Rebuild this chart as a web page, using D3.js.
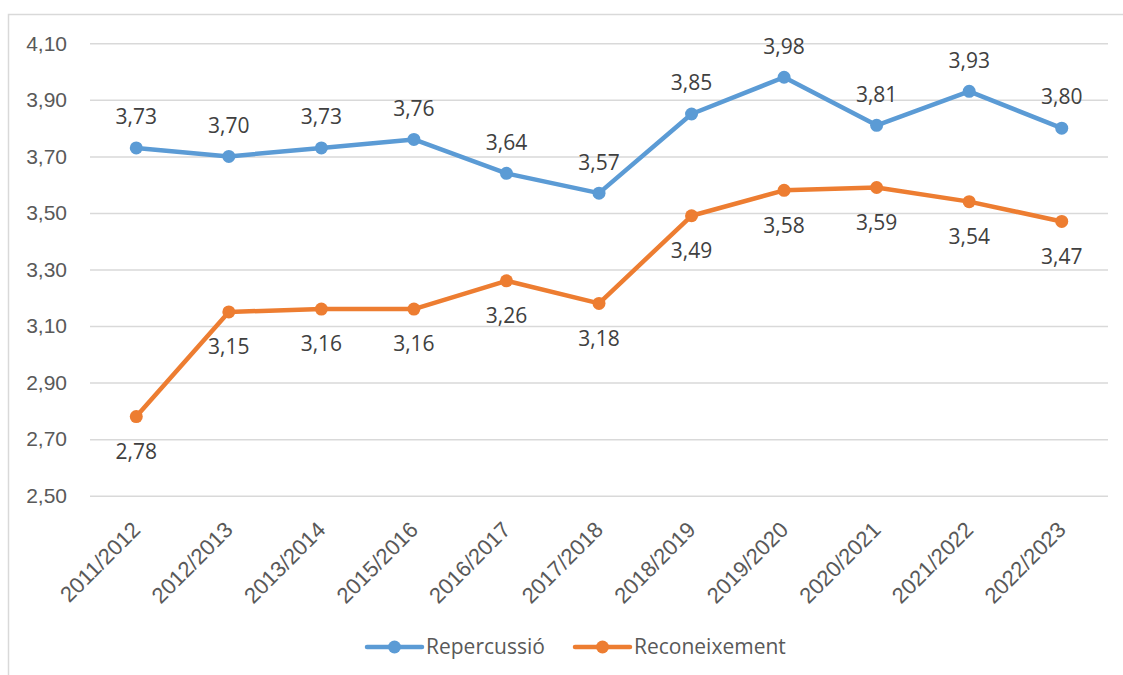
<!DOCTYPE html>
<html>
<head>
<meta charset="utf-8">
<script src="https://cdn.jsdelivr.net/npm/d3@7"></script>
<style>
  body { margin: 0; background: #fff; }
  svg { display: block; font-family: "Open Sans", "Liberation Sans", sans-serif; }
</style>
</head>
<body>
<div id="chart"></div>
<script>
// Data
const years = ['2011/2012', '2012/2013', '2013/2014', '2015/2016', '2016/2017', '2017/2018',
    '2018/2019', '2019/2020', '2020/2021', '2021/2022', '2022/2023'];
const repercussio = [3.73, 3.70, 3.73, 3.76, 3.64, 3.57, 3.85, 3.98, 3.81, 3.93, 3.80];
const reconeixement = [2.78, 3.15, 3.16, 3.16, 3.26, 3.18, 3.49, 3.58, 3.59, 3.54, 3.47];
const yTicks = [2.5, 2.7, 2.9, 3.1, 3.3, 3.5, 3.7, 3.9, 4.1];

const width = 1123, height = 675;
const plot = { left: 90, right: 1108, top: 43.3, bottom: 495.7 };

const series = [
    { name: 'Repercussió', values: repercussio, color: '#5b9bd5', labelDy: -31 },
    { name: 'Reconeixement', values: reconeixement, color: '#ed7d31', labelDy: 35 }
];

const fmt = v => d3.format('.2f')(v).replace('.', ',');

const svg = d3.select('#chart').append('svg')
    .attr('width', width)
    .attr('height', height);

// Outer frame (cut by the image edge on the right and bottom)
svg.append('rect')
    .attr('x', 8.5).attr('y', 14.5)
    .attr('width', 1130).attr('height', 680)
    .attr('fill', 'none')
    .attr('stroke', '#d9d9d9')
    .attr('stroke-width', 1.5);

const x = d3.scaleBand()
    .domain(years)
    .range([plot.left, plot.right]);

const y = d3.scaleLinear()
    .domain([2.5, 4.1])
    .range([plot.bottom, plot.top]);

const cx = d => x(d) + x.bandwidth() / 2;

// Gridlines + y labels
const yAxis = svg.append('g')
    .attr('transform', `translate(${plot.left},0)`)
    .call(d3.axisLeft(y).tickValues(yTicks).tickSize(-(plot.right - plot.left)).tickFormat(fmt));
yAxis.select('.domain').remove();
yAxis.selectAll('.tick line').attr('stroke', '#d9d9d9').attr('stroke-width', 1.5);
yAxis.selectAll('.tick text')
    .attr('x', -23)
    .attr('fill', '#595959')
    .style('font-size', '21px');

// X labels
const xAxis = svg.append('g')
    .attr('transform', `translate(0,${plot.bottom})`)
    .call(d3.axisBottom(x).tickSize(0));
xAxis.select('.domain').remove();
xAxis.selectAll('.tick text')
    .attr('fill', '#595959')
    .style('font-size', '22px')
    .attr('text-anchor', 'end')
    .attr('dy', '0.35em')
    .attr('y', 0)
    .attr('transform', 'translate(0,30) rotate(-45)');

// Lines, markers and value labels
const line = d3.line()
    .x((d, i) => cx(years[i]))
    .y(d => y(d));

series.forEach(s => {
    svg.append('path')
        .datum(s.values)
        .attr('fill', 'none')
        .attr('stroke', s.color)
        .attr('stroke-width', 4.5)
        .attr('stroke-linejoin', 'round')
        .attr('stroke-linecap', 'round')
        .attr('d', line);

    svg.append('g').selectAll('circle')
        .data(s.values)
        .enter()
        .append('circle')
        .attr('cx', (d, i) => cx(years[i]))
        .attr('cy', d => y(d))
        .attr('r', 6.5)
        .attr('fill', s.color);

    svg.append('g').selectAll('text')
        .data(s.values)
        .enter()
        .append('text')
        .attr('x', (d, i) => cx(years[i]))
        .attr('y', d => y(d) + s.labelDy)
        .attr('dy', '0.35em')
        .attr('text-anchor', 'middle')
        .attr('fill', '#404040')
        .style('font-size', '21px')
        .text(d => fmt(d));
});

// Legend
const legendItems = [
    { s: series[0], x: 367 },
    { s: series[1], x: 575 }
];
const legendY = 647;
legendItems.forEach(item => {
    const lg = svg.append('g').attr('transform', `translate(${item.x},${legendY})`);
    lg.append('line')
        .attr('x1', 0).attr('x2', 55)
        .attr('y1', 0).attr('y2', 0)
        .attr('stroke', item.s.color)
        .attr('stroke-width', 4.5)
        .attr('stroke-linecap', 'round');
    lg.append('circle')
        .attr('cx', 27.5).attr('cy', 0)
        .attr('r', 6.5)
        .attr('fill', item.s.color);
    lg.append('text')
        .attr('x', 59)
        .attr('dy', '0.35em')
        .attr('fill', '#595959')
        .style('font-size', '21px')
        .text(item.s.name);
});
</script>
</body>
</html>
